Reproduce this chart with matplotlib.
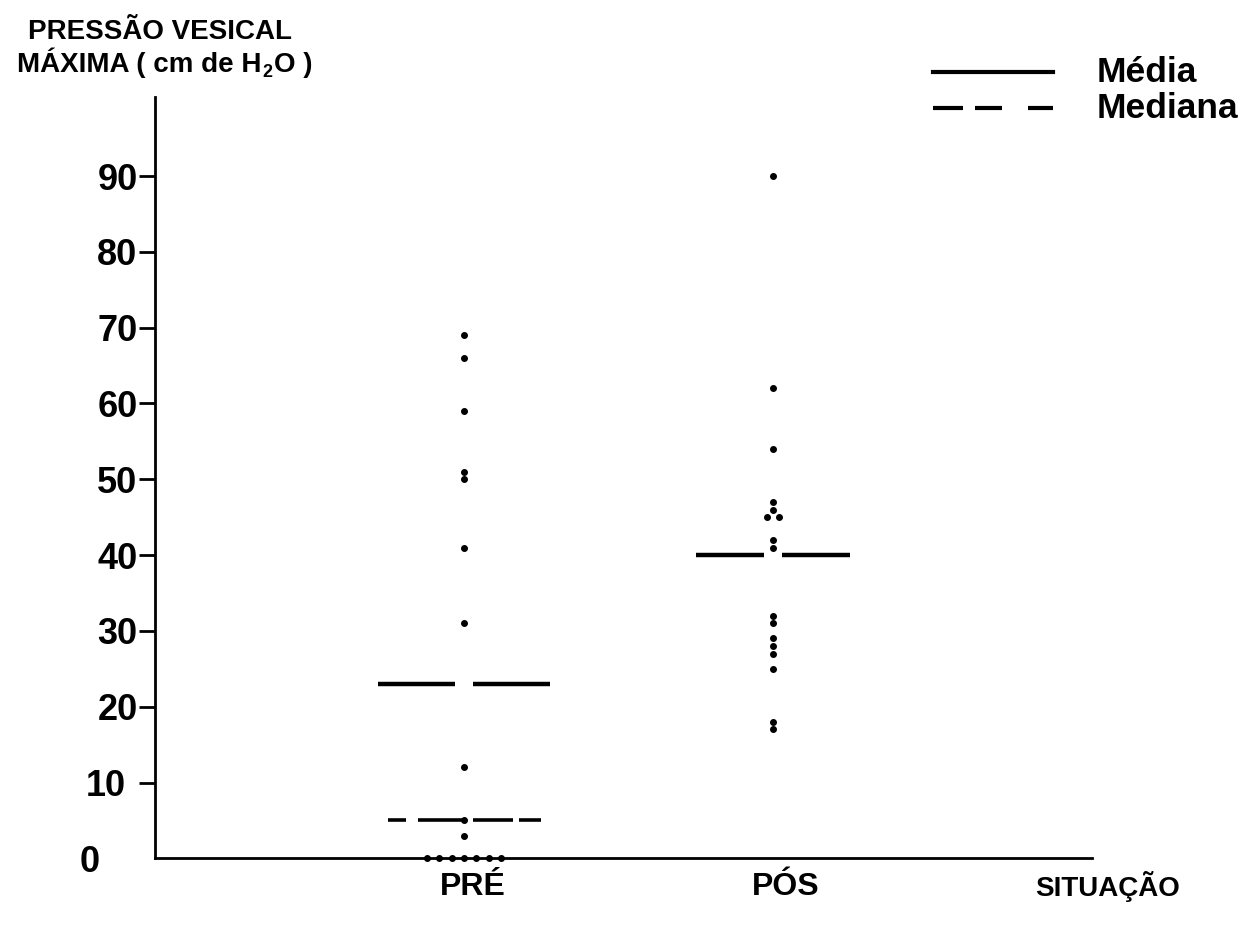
import matplotlib
matplotlib.use("Agg")
import matplotlib.pyplot as plt
from matplotlib.lines import Line2D
from matplotlib.transforms import ScaledTranslation

plt.rcParams['font.family'] = ['Liberation Sans', 'DejaVu Sans']
plt.rcParams['font.weight'] = 'bold'
plt.rcParams['lines.scale_dashes'] = False

# ---- data (cm H2O) ----
categories = ["PRÉ", "PÓS"]
pre_values = [0, 0, 0, 0, 0, 0, 0, 3, 5, 12, 31, 41, 50, 51, 59, 66, 69]
pos_values = [17, 18, 25, 27, 28, 29, 31, 32, 41, 42, 45, 45, 46, 47, 54, 62, 90]
means = [23, 40]
medians = [5, 40]
yticks = [0, 10, 20, 30, 40, 50, 60, 70, 80, 90]

W, H = 1246, 925
PX = 72 / 100  # points per pixel
fig = plt.figure(figsize=(W / 100, H / 100), dpi=100)
ax = fig.add_axes([155 / W, 1 - 858.3 / H, (1092 - 155) / W, (858.3 - 97) / H])

xpos = [1, 2]

def spread(vals, center, step):
    """horizontal positions for tied points (side by side)"""
    counts = {}
    for v in vals:
        counts[v] = counts.get(v, 0) + 1
    seen, xs = {}, []
    for v in vals:
        n = counts[v]
        k = seen.get(v, 0)
        seen[v] = k + 1
        xs.append(center + (k - (n - 1) / 2) * step)
    return xs

for vals, c in zip([pre_values, pos_values], xpos):
    xs = spread(vals, c, 0.04)
    ax.plot(xs, vals, 'o', color='black', markersize=4.0, zorder=3, clip_on=False)

# mean (solid, with a gap at the dot column) and median (dashed)
half = [0.277, 0.25]
gap = 0.03
for c, m, md, h in zip(xpos, means, medians, half):
    ax.plot([c - h, c - gap], [m, m], color='black', lw=3.2, solid_capstyle='butt')
    ax.plot([c + gap, c + h], [m, m], color='black', lw=3.2, solid_capstyle='butt')
    if md != m:
        ln, = ax.plot([c - 0.245, c + 0.25], [md, md], color='black', lw=2.6,
                      dash_capstyle='butt')
        ln.set_dashes([18 * PX, 12 * PX, 45 * PX, 10 * PX, 40 * PX, 6 * PX, 24 * PX, 20 * PX])

ax.set_xlim(0, (1092 - 155) / 309)
ax.set_ylim(0, (858.3 - 97) / 7.58)

for s in ['top', 'right']:
    ax.spines[s].set_visible(False)
for s in ['left', 'bottom']:
    ax.spines[s].set_linewidth(2.0)

ax.set_yticks(yticks)
ax.set_yticklabels([str(t) for t in yticks], fontsize=26, fontweight='bold')
ax.tick_params(axis='y', length=16 * PX, width=2.0, pad=1, direction='out')

# the original's lowest labels sit further left than the rest; no tick mark at 0
label_shift_px = {"10": -12, "0": -38}
for tick in ax.yaxis.get_major_ticks():
    lab = tick.label1
    txt = lab.get_text()
    dx = label_shift_px.get(txt, 0)
    if dx:
        lab.set_transform(lab.get_transform() +
                          ScaledTranslation(dx / 100, 0, fig.dpi_scale_trans))
    if txt == "0":
        tick.tick1line.set_visible(False)

ax.set_xticks([1.03, 2.04])
ax.set_xticklabels(categories, fontsize=23, fontweight='bold')
ax.tick_params(axis='x', length=0, pad=10)

# axis titles
fig.text(28 / W, 1 - 32 / H, "PRESSÃO VESICAL", fontsize=20, fontweight='bold',
         ha='left', va='center')
fig.canvas.draw()
renderer = fig.canvas.get_renderer()
ybase = 1 - 72 / H
t1 = fig.text(17 / W, ybase, "MÁXIMA ( cm de H", fontsize=20, fontweight='bold',
              ha='left', va='baseline')
x1 = t1.get_window_extent(renderer).x1 / W
t2 = fig.text(x1 + 1 / W, ybase - 5 / H, "2", fontsize=13, fontweight='bold',
              ha='left', va='baseline')
x2 = t2.get_window_extent(renderer).x1 / W
fig.text(x2 + 1 / W, ybase, "O )", fontsize=20, fontweight='bold',
         ha='left', va='baseline')

fig.text(1035 / W, 1 - 887 / H, "SITUAÇÃO", fontsize=20, fontweight='bold',
         ha='left', va='center')

# legend (drawn by hand to match the original layout)
fig.add_artist(Line2D([933 / W, 1053 / W], [1 - 72 / H, 1 - 72 / H],
                      color='black', lw=3.0, transform=fig.transFigure))
leg_dash = Line2D([933 / W, 1053 / W], [1 - 108 / H, 1 - 108 / H],
                  color='black', lw=3.0, transform=fig.transFigure,
                  dash_capstyle='butt')
leg_dash.set_dashes([30 * PX, 12 * PX, 27 * PX, 26 * PX, 25 * PX, 10 * PX])
fig.add_artist(leg_dash)
fig.text(1097 / W, 1 - 72 / H, "Média", fontsize=25.5, fontweight='bold',
         ha='left', va='center')
fig.text(1097 / W, 1 - 108 / H, "Mediana", fontsize=25.5, fontweight='bold',
         ha='left', va='center')

fig.savefig("out.png", dpi=100, facecolor='white')
